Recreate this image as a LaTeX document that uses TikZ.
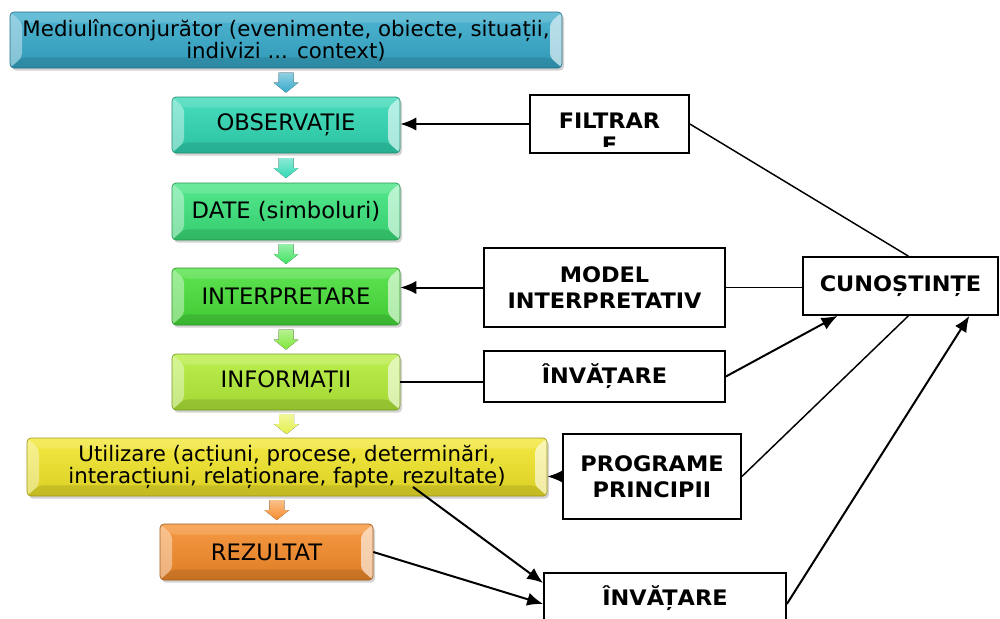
\documentclass[tikz,border=0pt]{standalone}
\usepackage{fontspec}
\setmainfont{DejaVu Sans}
\newfontfamily\boxfont[FakeStretch=1.05]{DejaVu Sans Bold}
\usetikzlibrary{arrows.meta,calc,shadows}

\definecolor{cmed}{HTML}{36AACB}
\definecolor{cobs}{HTML}{2FD8B4}
\definecolor{cdate}{HTML}{3BE47C}
\definecolor{cint}{HTML}{48E03A}
\definecolor{cinfo}{HTML}{B4EE38}
\definecolor{cutil}{HTML}{F2E628}
\definecolor{crez}{HTML}{F68C2A}
\definecolor{carr}{HTML}{E4F04A}

\tikzset{
  sz/.style 2 args={minimum width=#1*0.75pt, minimum height=#2*0.75pt},
  bevel/.style={path picture={
    \fill[white,opacity=0.15] (path picture bounding box.north west) -- ([shift={(9pt,-8pt)}]path picture bounding box.north west) -- ([shift={(-9pt,-8pt)}]path picture bounding box.north east) -- (path picture bounding box.north east) -- cycle;
    \fill[white,opacity=0.40] (path picture bounding box.north west) -- ([shift={(9pt,-8pt)}]path picture bounding box.north west) -- ([shift={(9pt,8pt)}]path picture bounding box.south west) -- (path picture bounding box.south west) -- cycle;
    \fill[white,opacity=0.60] (path picture bounding box.north east) -- ([shift={(-9pt,-8pt)}]path picture bounding box.north east) -- ([shift={(-9pt,8pt)}]path picture bounding box.south east) -- (path picture bounding box.south east) -- cycle;
    \fill[black,opacity=0.10] (path picture bounding box.south west) -- ([shift={(9pt,8pt)}]path picture bounding box.south west) -- ([shift={(-9pt,8pt)}]path picture bounding box.south east) -- (path picture bounding box.south east) -- cycle;
  }},
  flow/.style={rounded corners=3pt, draw=#1!65!black, line width=0.5pt,
    top color=#1!88!white, bottom color=#1!90!black, inner sep=0pt,
    align=center, font=\fontsize{17}{17}\selectfont,
    drop shadow={opacity=0.35, shadow xshift=1.5pt, shadow yshift=-2pt},
    bevel},
  rbox/.style={draw, line width=1.3pt, fill=white, align=center, inner sep=0pt,
    font=\boxfont\fontsize{16}{19.5}\selectfont},
  conn/.style={line width=1.5pt, -{Latex[length=12pt,width=10pt]}},
  link/.style={line width=1.1pt},
  pics/barr/.style={code={
    \fill[top color=#1!55!white, bottom color=#1] (-7.5,-10) -- (7.5,-10) -- (7.5,0) -- (12.5,0) -- (0,10) -- (-12.5,0) -- (-7.5,0) -- cycle;
  }}
}

\begin{document}
\begin{tikzpicture}[x=0.75pt,y=-0.75pt]
\clip (0,0) rectangle (1000,618);

% main flow of boxes
\node[flow=cmed, sz={552}{56}, font=\fontsize{16}{16.5}\selectfont] (med) at (286,40) {Mediulînconjurător (evenimente, obiecte, situații,\\indivizi ... context)};
\node[flow=cobs, sz={228}{56}] (obs) at (286,125) {OBSERVAȚIE};
\node[flow=cdate, sz={228}{57}] (date) at (286,211.5) {DATE (simboluri)};
\node[flow=cint, sz={228}{57}] (interp) at (286,296.5) {INTERPRETARE};
\node[flow=cinfo, sz={228}{56}] (info) at (286,382) {INFORMAȚII};
\node[flow=cutil, sz={520}{58}, font=\fontsize{16}{17}\selectfont] (util) at (287,467) {Utilizare (acțiuni, procese, determinări,\\interacțiuni, relaționare, fapte, rezultate)};
\node[flow=crez, sz={213}{56}] (rez) at (266.5,552) {REZULTAT};

% block arrows between the flow boxes
\pic at ($(med.south)!0.5!(obs.north)$) {barr=cmed};
\pic at ($(obs.south)!0.5!(date.north)$) {barr=cobs};
\pic at ($(date.south)!0.5!(interp.north)$) {barr=cdate!60!cint};
\pic at ($(interp.south)!0.5!(info.north)$) {barr=cint!50!cinfo};
\pic at ($(info.south)!0.5!(util.north)$) {barr=carr};
\pic at ($(util.south)!0.5!(rez.north)$) {barr=crez};

% side boxes
\node[rbox, sz={159}{58}] (filt) at (609.5,124) {};
\begin{scope}
  \clip (531,96) rectangle (688,146);
  \node[font=\boxfont\fontsize{16}{18}\selectfont, align=center, anchor=north, inner sep=0pt] (filttxt) at (609.5,113) {FILTRAR\\E};
\end{scope}
\node[rbox, sz={241}{79}] (model) at (604.5,287.5) {MODEL\\INTERPRETATIV};
\node[rbox, sz={195}{58}] (cun) at (900.5,286) {CUNOȘTINȚE};
\node[rbox, sz={241}{51}] (inv1) at (604.5,376.5) {ÎNVĂȚARE};
\node[rbox, sz={178}{85}] (prog) at (652,476.5) {PROGRAME\\PRINCIPII};
\node[rbox, anchor=north, minimum width=242*0.75pt, text height=33*0.75pt, text depth=35*0.75pt] (inv2) at (665,572) {ÎNVĂȚARE};

\coordinate (ustart) at (413,487);

% connectors
\draw[conn] (filt.west) -- (filt.west -| obs.east);
\draw[link] (filt.east) -- ($(cun.north west)!0.54!(cun.north east)$);
\draw[conn] (model.west) -- (model.west -| interp.east);
\draw[link] (model.east) -- (model.east -| cun.west);
\draw[link] (info.east) -- (info.east -| inv1.west);
\draw[conn] (inv1.east) -- ($(cun.south west)!0.18!(cun.south east)$);
\draw[link] ($(cun.south west)!0.54!(cun.south east)$) -- (prog.east);
\draw[conn] (prog.west) -- (prog.west -| util.east);
\draw[conn] (ustart) -- ($(inv2.north west)+(0,11)$);
\draw[conn] (rez.east) -- ($(inv2.north west)+(0,32)$);
\draw[conn] ($(inv2.north east)+(0,32)$) -- ($(cun.south west)!0.85!(cun.south east)$);
\end{tikzpicture}
\end{document}
